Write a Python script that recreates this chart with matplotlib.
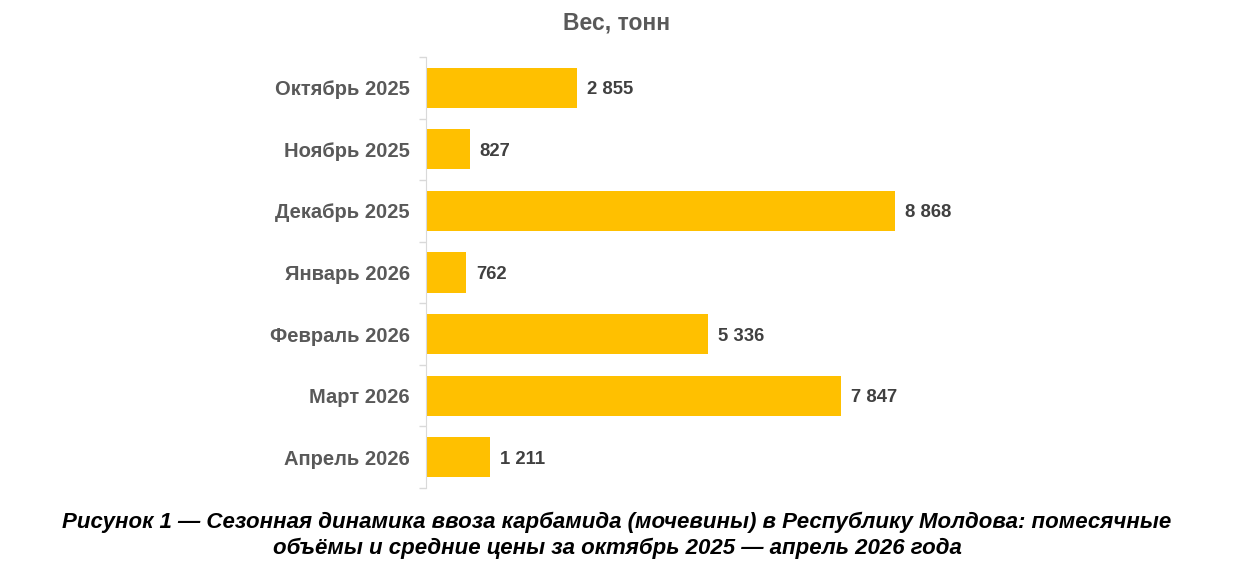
import numpy as np
import matplotlib.pyplot as plt

plt.rcParams['font.family'] = ['Liberation Sans', 'DejaVu Sans']

months = ['Октябрь 2025', 'Ноябрь 2025', 'Декабрь 2025', 'Январь 2026',
          'Февраль 2026', 'Март 2026', 'Апрель 2026']
tonnes = [2855, 827, 8868, 762, 5336, 7847, 1211]
value_labels = ['2 855', '827', '8 868', '762', '5 336', '7 847', '1 211']

fig = plt.figure(figsize=(12.42, 5.66), dpi=100)
# axes in pixels: left 426, right 955, top 57, bottom 488
ax = fig.add_axes([426/1242, 1 - 488/566, 529/1242, 431/566])

y = np.arange(len(months))
ax.barh(y, tonnes, height=0.65, color='#FFC000')
ax.set_xlim(0, 10000)
ax.set_ylim(len(months) - 0.5, -0.5)

for yi, v, lab in zip(y, tonnes, value_labels):
    ax.text(v + 180, yi, lab, va='center_baseline', ha='left', fontsize=13.3,
            fontweight='bold', color='#404040')

ax.set_yticks(y)
ax.set_yticklabels(months, fontsize=14.5, fontweight='bold', color='#595959')
ax.set_yticks(np.arange(-0.5, len(months)), minor=True)
ax.tick_params(axis='y', which='major', length=0, pad=11.5)
ax.tick_params(axis='y', which='minor', length=5, color='#d9d9d9', width=1)
ax.set_xticks([])
for s in ['top', 'right', 'bottom']:
    ax.spines[s].set_visible(False)
ax.spines['left'].set_color('#d9d9d9')

fig.text(617/1242, 1 - 23/566, 'Вес, тонн', ha='center', va='center',
         fontsize=16.5, fontweight='bold', color='#595959')

fig.text(617/1242, 1 - 522/566,
         'Рисунок 1 — Сезонная динамика ввоза карбамида (мочевины) в Республику Молдова: помесячные',
         ha='center', va='center', fontsize=16, fontweight='bold', style='italic', color='black')
fig.text(617/1242, 1 - 548/566,
         'объёмы и средние цены за октябрь 2025 — апрель 2026 года',
         ha='center', va='center', fontsize=16, fontweight='bold', style='italic', color='black')

fig.savefig('out.png', dpi=100)
